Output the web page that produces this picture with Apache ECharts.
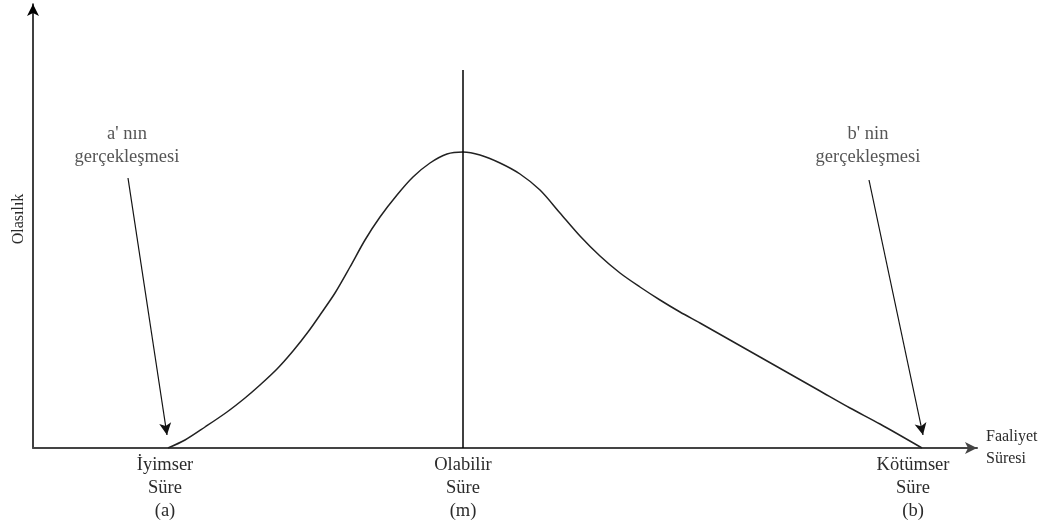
<!DOCTYPE html>
<html>
<head>
<meta charset="utf-8">
<script src="https://cdn.jsdelivr.net/npm/echarts@6/dist/echarts.min.js"></script>
<style>
  html, body { margin: 0; padding: 0; background: #fff; }
  #chart { width: 1053px; height: 526px; }
</style>
</head>
<body>
<div id="chart"></div>
<script>
// Beta-like distribution of activity duration (x: time, y: probability), arbitrary units
const curveX = [135, 152, 172, 194, 212, 227, 244, 260, 275, 287, 302, 317, 332, 347, 364, 380, 397, 414, 430,
                447, 467, 487, 507, 527, 547, 567, 587, 607, 627, 647, 667, 697, 727, 757, 787, 817, 847, 889];
const curveY = [0, 8, 21, 36, 50, 63, 79, 97, 116, 133, 155, 181, 208, 231, 253, 271, 285, 294, 296,
                293, 285, 274, 258, 235, 212, 192, 175, 161, 148, 136, 125, 108, 91, 74, 57, 40, 24, 0];

// Three time estimates: optimistic (a), most likely (m), pessimistic (b)
const estimateX = [135, 430, 889];
// Tick positions of the estimate captions under the axis
const captionX = [132, 430, 880];
const captionText = ['İyimser\nSüre\n(a)', 'Olabilir\nSüre\n(m)', 'Kötümser\nSüre\n(b)'];

// Mode marker height
const modeLineTop = 378;

// Annotation texts and their pointer arrows [from, to]
const noteText = ["a' nın\ngerçekleşmesi", "b' nin\ngerçekleşmesi"];
const noteX = [94, 835];
const noteY = [302, 302];
const arrowFrom = [[95, 270], [836, 268]];
const arrowTo = [[134, 13], [890, 13]];

const FONT = 'Liberation Serif';
const TXT = '#2b2b2b';

const curve = curveX.map((x, i) => [x, curveY[i]]);
const notes = noteText.map((t, i) => ({ value: [noteX[i], noteY[i]], label: { formatter: t } }));

const chart = echarts.init(document.getElementById('chart'), null, { renderer: 'canvas' });
chart.setOption({
  animation: false,
  backgroundColor: '#fff',
  textStyle: { fontFamily: FONT },
  grid: { left: 33, right: 76, top: 4, bottom: 78, containLabel: false, outerBoundsMode: 'none' },
  xAxis: {
    type: 'value',
    min: 0,
    max: 944,
    name: 'Faaliyet\nSüresi',
    nameLocation: 'end',
    nameGap: 9,
    nameTextStyle: { fontFamily: FONT, fontSize: 16, color: TXT, lineHeight: 22, align: 'left', padding: [4, 0, 0, 0] },
    axisLine: { show: true, symbol: ['none', 'arrow'], symbolSize: [9, 12], lineStyle: { color: '#444', width: 2 } },
    axisTick: { show: false },
    splitLine: { show: false },
    axisLabel: {
      customValues: captionX,
      formatter: v => captionText[captionX.indexOf(v)] || '',
      fontFamily: FONT, fontSize: 18.5, color: TXT, lineHeight: 23, margin: 6
    }
  },
  yAxis: {
    type: 'value',
    min: 0,
    max: 444,
    name: 'Olasılık',
    nameLocation: 'middle',
    nameRotate: 90,
    nameGap: 6,
    nameTextStyle: { fontFamily: FONT, fontSize: 16, color: TXT, padding: [0, 0, 0, 14] },
    axisLine: { show: true, symbol: ['none', 'arrow'], symbolSize: [9, 12], lineStyle: { color: '#000', width: 1.5 } },
    axisTick: { show: false },
    splitLine: { show: false },
    axisLabel: { show: false }
  },
  series: [
    {
      type: 'line',
      data: curve,
      smooth: 0.3,
      showSymbol: false,
      lineStyle: { color: '#222', width: 1.5 },
      markLine: {
        silent: true,
        symbol: ['none', 'none'],
        label: { show: false },
        lineStyle: { color: '#000', width: 1.5, type: 'solid' },
        data: [[{ coord: [estimateX[1], 0] }, { coord: [estimateX[1], modeLineTop] }]]
      }
    },
    {
      type: 'line',
      data: [],
      markLine: {
        silent: true,
        symbol: ['none', 'arrow'],
        symbolSize: [9, 12],
        label: { show: false },
        lineStyle: { color: '#111', width: 1.2, type: 'solid' },
        data: arrowFrom.map((f, i) => [{ coord: f }, { coord: arrowTo[i] }])
      }
    },
    {
      type: 'scatter',
      data: notes,
      symbolSize: 0,
      silent: true,
      label: {
        show: true,
        position: 'inside',
        fontFamily: FONT,
        fontSize: 18.5,
        color: TXT,
        lineHeight: 23,
        align: 'center',
        verticalAlign: 'middle'
      }
    }
  ]
});
</script>
</body>
</html>
